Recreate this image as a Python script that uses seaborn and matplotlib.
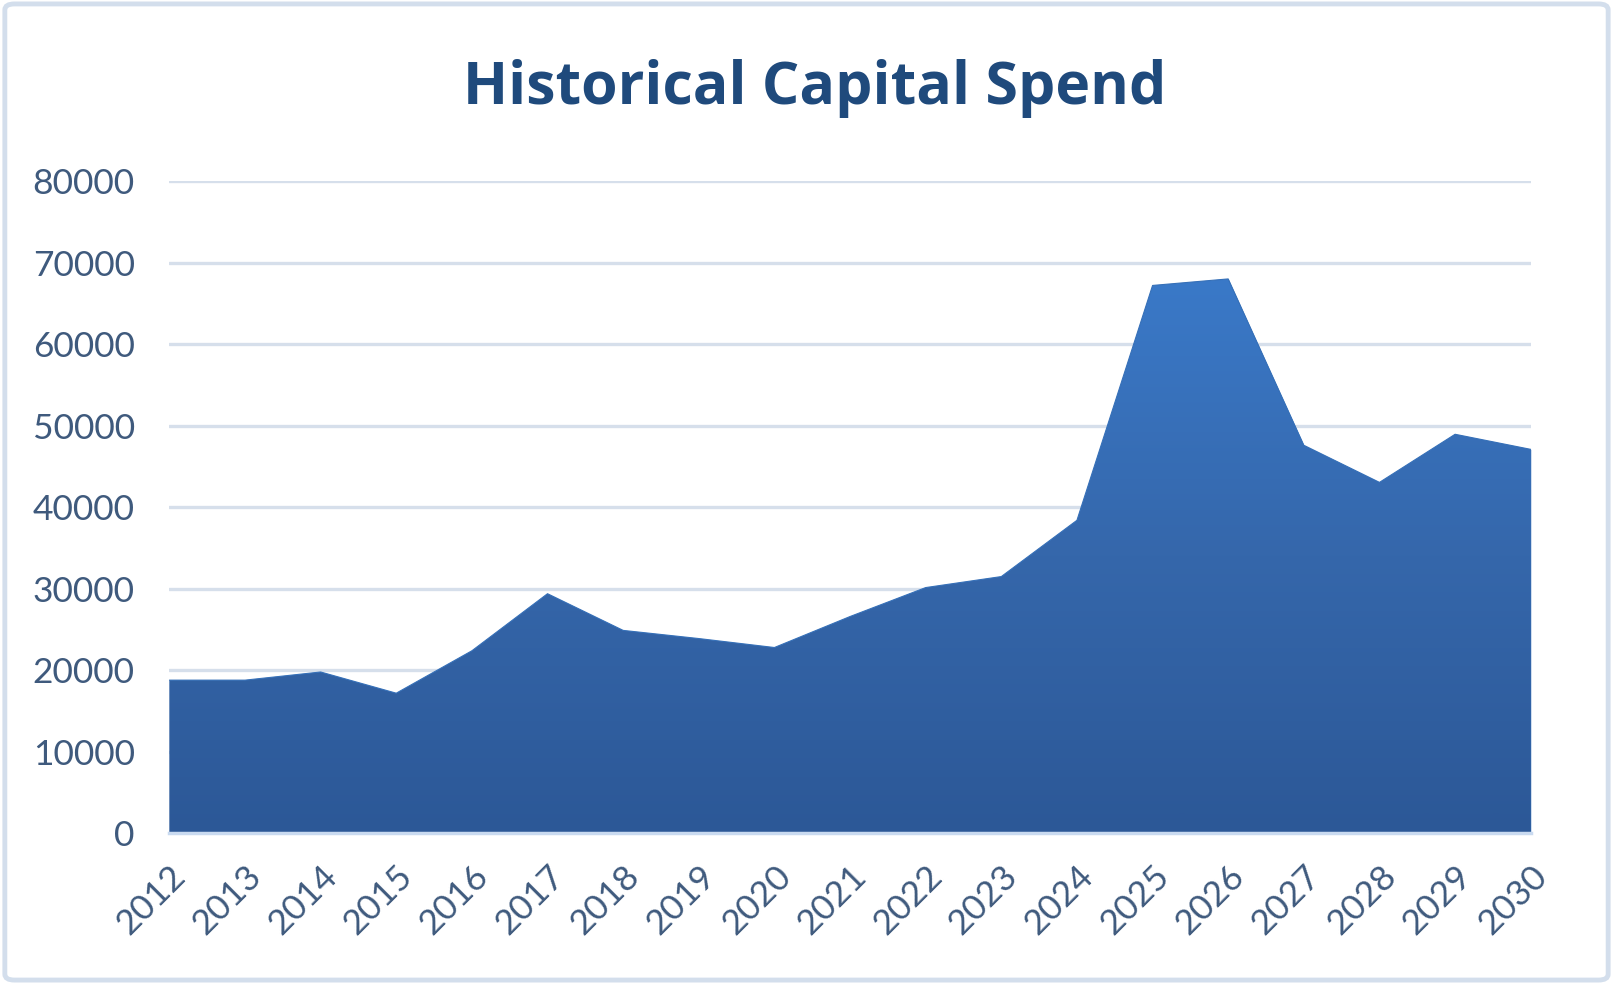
import numpy as np
import pandas as pd
import matplotlib
matplotlib.use("Agg")
import matplotlib.pyplot as plt
import seaborn as sns
from matplotlib.colors import LinearSegmentedColormap
from matplotlib.patches import FancyBboxPatch

years = [2012, 2013, 2014, 2015, 2016, 2017, 2018, 2019, 2020, 2021,
         2022, 2023, 2024, 2025, 2026, 2027, 2028, 2029, 2030]
spend = [18800, 18800, 19800, 17200, 22400, 29400, 24900, 23900, 22800, 26600,
         30150, 31500, 38400, 67200, 68000, 47600, 43050, 48950, 47100]
y_ticks = [0, 10000, 20000, 30000, 40000, 50000, 60000, 70000, 80000]
title = "Historical Capital Spend"

df = pd.DataFrame({"year": years, "spend": spend})

sns.set_theme(style="white")
plt.rcParams["font.family"] = ["Lato", "DejaVu Sans"]

fig = plt.figure(figsize=(16.13, 9.84), dpi=100)
fig.patch.set_facecolor("white")
border = FancyBboxPatch((0.003, 0.004), 0.994, 0.992, boxstyle="round,pad=0,rounding_size=0.006",
                        transform=fig.transFigure, facecolor="none", edgecolor="#d3deec",
                        linewidth=3.5, zorder=10)
fig.add_artist(border)

ax = fig.add_axes([0.105, 0.153, 0.844, 0.663])
ax.set_facecolor("none")

label_color = "#3f5a7d"

for t in y_ticks[1:]:
    ax.axhline(t, color="#d6dfeb", linewidth=2.4, zorder=1)

sns.lineplot(data=df, x="year", y="spend", ax=ax, color="#3670b8", linewidth=0.8, zorder=3)
poly = ax.fill_between(df["year"], df["spend"], 0, color="#3670b8", linewidth=0, zorder=2)

cmap = LinearSegmentedColormap.from_list("g", ["#2c5897", "#3567ab", "#3a79c8"])
grad = np.linspace(0, 1, 256).reshape(-1, 1)
im = ax.imshow(grad, extent=[years[0], years[-1], 0, max(spend)], origin="lower",
               aspect="auto", cmap=cmap, zorder=2.5)
path = poly.get_paths()[0]
im.set_clip_path(path, transform=ax.transData)

ax.set_xlim(years[0], years[-1])
ax.set_ylim(0, 80000)
ax.set_yticks(y_ticks)
ax.set_yticklabels([str(t) for t in y_ticks])
ax.set_xticks(years)
ax.set_xticklabels([str(y) for y in years], rotation=45, ha="right", rotation_mode="anchor")

for s in ["top", "right", "left"]:
    ax.spines[s].set_visible(False)
ax.spines["bottom"].set_color("#c9daf0")
ax.spines["bottom"].set_linewidth(2.5)
ax.spines["bottom"].set_zorder(4)

ax.tick_params(axis="y", length=0, labelsize=25.5, labelcolor=label_color, pad=25)
ax.tick_params(axis="x", length=10, width=1.2, color="#dcdcdc", direction="out",
               labelsize=25.5, labelcolor=label_color, pad=9)
ax.set_xlabel("")
ax.set_ylabel("")

fig.text(0.505, 0.91, title, ha="center", va="center", fontsize=42.5,
         fontweight="bold", color="#1f4a7c", family=["Open Sans", "DejaVu Sans"])

fig.savefig("out.png", dpi=100)
